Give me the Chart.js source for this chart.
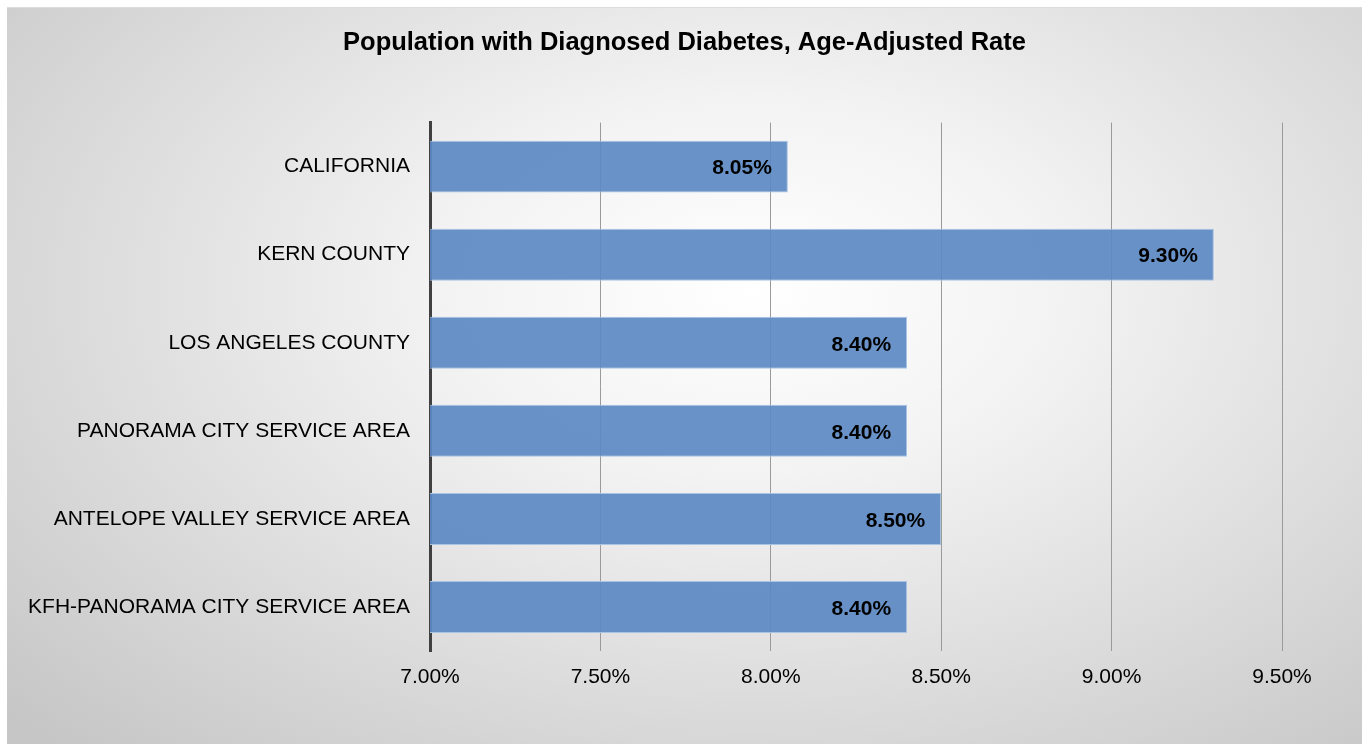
<!DOCTYPE html>
<html>
<head>
<meta charset="utf-8">
<script src="https://cdn.jsdelivr.net/npm/chart.js@4.4.1/dist/chart.umd.min.js"></script>
<style>
    html, body { margin: 0; padding: 0; background: #fff; }
    #box {
        position: absolute;
        left: 7px; top: 7px;
        width: 1355px; height: 737px;
        background: radial-gradient(ellipse 75% 85% at 55% 38%, #ffffff 0%, #f3f3f3 30%, #c6c6c6 100%);
        border-top: 1px solid #dcdcdc;
        box-sizing: border-box;
    }
    canvas { display: block; }
</style>
</head>
<body>
<div id="box"><canvas id="diabetesChart" width="1355" height="736"></canvas></div>
<script>
const categories = [
    'CALIFORNIA',
    'KERN COUNTY',
    'LOS ANGELES COUNTY',
    'PANORAMA CITY SERVICE AREA',
    'ANTELOPE VALLEY SERVICE AREA',
    'KFH-PANORAMA CITY SERVICE AREA'
];
const rates = [8.05, 9.30, 8.40, 8.40, 8.50, 8.40];
const tickValues = [7.0, 7.5, 8.0, 8.5, 9.0, 9.5];

const fontFamily = "'Liberation Sans', Arial, sans-serif";

// Bold value labels drawn inside the bar end
const barLabels = {
    id: 'barLabels',
    afterDatasetsDraw(chart) {
        const ctx = chart.ctx;
        const meta = chart.getDatasetMeta(0);
        ctx.save();
        ctx.font = 'bold 21px ' + fontFamily;
        ctx.fillStyle = '#000';
        ctx.textAlign = 'right';
        ctx.textBaseline = 'middle';
        meta.data.forEach((bar, i) => {
            ctx.fillText(rates[i].toFixed(2) + '%', bar.x - 16, bar.y + 2);
        });
        ctx.restore();
    }
};

new Chart(document.getElementById('diabetesChart'), {
    type: 'bar',
    data: {
        labels: categories,
        datasets: [{
            data: rates,
            backgroundColor: 'rgba(92, 138, 195, 0.92)',
            borderColor: '#a9c3e3',
            borderWidth: 1,
            categoryPercentage: 0.59,
            barPercentage: 1.0
        }]
    },
    plugins: [barLabels],
    options: {
        indexAxis: 'y',
        responsive: false,
        animation: false,
        events: [],
        layout: { padding: 0 },
        plugins: {
            legend: { display: false },
            tooltip: { enabled: false },
            title: {
                display: true,
                text: 'Population with Diagnosed Diabetes, Age-Adjusted Rate',
                color: '#000',
                font: { family: fontFamily, size: 25.5, weight: 'bold' },
                padding: { top: 20, bottom: 64 }
            }
        },
        scales: {
            x: {
                min: 7.0,
                max: 9.5,
                afterBuildTicks(axis) {
                    axis.ticks = tickValues.map(v => ({ value: v }));
                },
                afterFit(axis) { axis.height = 93; },
                grid: {
                    color: '#9a9a9a',
                    lineWidth: 1,
                    drawTicks: false
                },
                border: { display: false },
                ticks: {
                    color: '#000',
                    padding: 14,
                    font: { family: fontFamily, size: 21 },
                    callback: v => Number(v).toFixed(2) + '%'
                }
            },
            y: {
                afterFit(axis) { axis.width = 423; },
                grid: { display: false },
                border: { display: true, color: '#404040', width: 3 },
                ticks: {
                    color: '#000',
                    padding: 12,
                    font: { family: fontFamily, size: 21 }
                }
            },
            // empty right-hand gutter so the title stays centred on the whole box
            gutter: {
                axis: 'y',
                type: 'category',
                position: 'right',
                afterFit(axis) { axis.width = 80; },
                grid: { display: false },
                border: { display: false },
                ticks: { display: false }
            }
        }
    }
});
</script>
</body>
</html>
